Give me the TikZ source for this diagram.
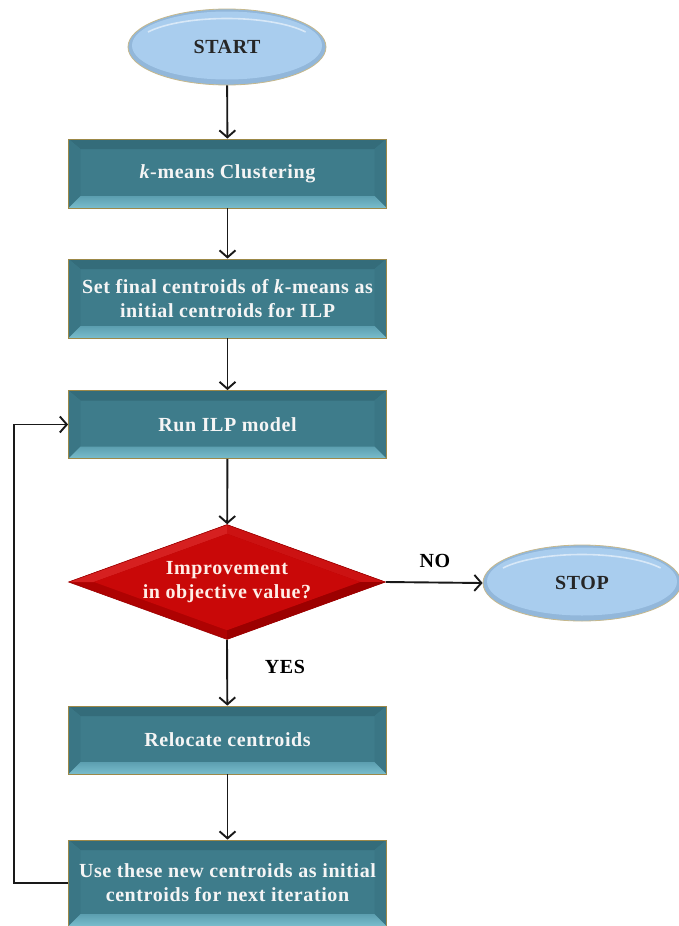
\documentclass[tikz,border=0pt]{standalone}
\usepackage{fontspec}
\setmainfont{Liberation Serif}[LetterSpace=3]
\usetikzlibrary{shapes.geometric,arrows.meta,calc}

% palette
\definecolor{tealface}{HTML}{3E7C8B}
\definecolor{tealtop}{HTML}{346C7A}
\definecolor{tealside}{HTML}{3A7685}
\definecolor{tealbotA}{HTML}{5C9FB0}
\definecolor{tealbotB}{HTML}{79BDCC}
\definecolor{boxrim}{HTML}{9C8848}
\definecolor{ellface}{HTML}{A9CDEE}
\definecolor{elledge}{HTML}{92B7DA}
\definecolor{ellrim}{HTML}{C6B88C}
\definecolor{redface}{HTML}{C90808}
\definecolor{redlight}{HTML}{D62020}
\definecolor{redmid}{HTML}{CC1212}
\definecolor{reddark}{HTML}{AE0202}
\definecolor{reddeep}{HTML}{9C0000}
\definecolor{redtext}{HTML}{FFEDE6}

\newcommand{\ppb}{path picture bounding box}
\newcommand{\flowfont}{\fontsize{20}{24}\selectfont\bfseries}

\tikzset{
  procbox/.style={rectangle, minimum width=318pt, minimum height=#1,
    inner sep=0pt, align=center, text=white!96!black, font=\flowfont,
    fill=tealface, draw=boxrim, line width=0.8pt,
    path picture={
      % top bevel
      \fill[tealtop] (\ppb.north west) -- (\ppb.north east)
        -- ($(\ppb.north east)+(-12pt,-10pt)$) -- ($(\ppb.north west)+(12pt,-10pt)$) -- cycle;
      % side bevels
      \fill[tealside] (\ppb.north west) -- ($(\ppb.north west)+(12pt,-10pt)$)
        -- ($(\ppb.south west)+(12pt,12pt)$) -- (\ppb.south west) -- cycle;
      \fill[tealside] (\ppb.north east) -- ($(\ppb.north east)+(-12pt,-10pt)$)
        -- ($(\ppb.south east)+(-12pt,12pt)$) -- (\ppb.south east) -- cycle;
      % bottom bevel
      \shade[top color=tealbotA, bottom color=tealbotB]
        (\ppb.south west) -- ($(\ppb.south west)+(12pt,12pt)$)
        -- ($(\ppb.south east)+(-12pt,12pt)$) -- (\ppb.south east) -- cycle;
    }},
  termnode/.style={ellipse, minimum width=198pt, minimum height=76pt,
    inner sep=0pt, font=\flowfont, text=black!85,
    fill=elledge, draw=ellrim, line width=0.8pt,
    path picture={
      \fill[ellface] ($(\ppb.center)+(0pt,1.5pt)$) ellipse [x radius=95pt, y radius=34pt];
      \draw[white, opacity=0.55, line width=1.6pt]
        ($(\ppb.center)+(-79pt,15pt)$) arc [start angle=150, end angle=30, x radius=91pt, y radius=27pt];
    }},
  decision/.style={diamond, minimum width=317pt, minimum height=115pt,
    inner sep=0pt, aspect=2.75, align=center, font=\flowfont, text=redtext,
    fill=reddark, draw=reddeep, line width=0.6pt,
    path picture={
      \fill[redlight] (\ppb.west) -- (\ppb.north)
        -- ($(\ppb.center)!0.84!(\ppb.north)$) -- ($(\ppb.center)!0.84!(\ppb.west)$) -- cycle;
      \fill[redmid] (\ppb.east) -- (\ppb.north)
        -- ($(\ppb.center)!0.84!(\ppb.north)$) -- ($(\ppb.center)!0.84!(\ppb.east)$) -- cycle;
      \fill[reddeep] (\ppb.east) -- (\ppb.south)
        -- ($(\ppb.center)!0.84!(\ppb.south)$) -- ($(\ppb.center)!0.84!(\ppb.east)$) -- cycle;
      \fill[redface] ($(\ppb.center)!0.84!(\ppb.west)$) -- ($(\ppb.center)!0.84!(\ppb.north)$)
        -- ($(\ppb.center)!0.84!(\ppb.east)$) -- ($(\ppb.center)!0.84!(\ppb.south)$) -- cycle;
    }},
  conn/.style={draw=black!90, line width=1.9pt,
    -{Straight Barb[length=7pt, width=16pt, line width=1.9pt]}},
  flowlabel/.style={font=\flowfont, text=black, inner sep=0pt}
}

\begin{document}
\begin{tikzpicture}[x=1pt, y=-1pt]
  \useasboundingbox[fill=white] (0,0) rectangle (679,926);

  \node[termnode] (start) at (227,47) {START};
  \node[procbox=69pt] (kmeans) at (227.5,173.5) {\textit{k}-means Clustering};
  \node[procbox=79pt] (setinit) at (227.5,298.5)
    {Set final centroids of \textit{k}-means as\\initial centroids for ILP};
  \node[procbox=68pt] (runilp) at (227.5,424.5) {Run ILP model};
  \node[decision] (improve) at (227,582) {Improvement\\in objective value?};
  \node[termnode] (stop) at (582,583) {STOP};
  \node[procbox=68pt] (reloc) at (227.5,740) {Relocate centroids};
  \node[procbox=86pt] (usenew) at (227.5,883)
    {Use these new centroids as initial\\centroids for next iteration};

  \draw[conn] (start) -- (kmeans);
  \draw[conn] (kmeans) -- (setinit);
  \draw[conn] (setinit) -- (runilp);
  \draw[conn] (runilp) -- (improve);
  \draw[conn] (improve.south) -- (reloc);
  \draw[conn] (improve.east) -- (stop.west);
  \draw[conn] (reloc) -- (usenew);
  \draw[conn] (usenew.west) -- ++(-54,0) |- (runilp.west);

  \node[flowlabel] (nolabel) at (435,561) {NO};
  \node[flowlabel] (yeslabel) at (285,667) {YES};
\end{tikzpicture}
\end{document}
